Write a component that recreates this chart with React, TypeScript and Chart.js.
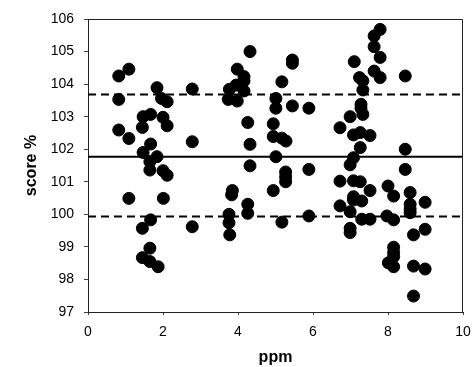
import React, { useEffect, useRef } from "react";
import { Chart, registerables } from "chart.js";

Chart.register(...registerables);

const ppm: number[] = [
  0.82, 1.09, 0.82, 1.84, 1.96, 2.11, 2.78, 1.47, 1.67, 2.0, 1.45, 2.11, 0.82, 1.09, 2.78, 1.67, 1.47, 1.84, 1.65, 1.65, 2.0, 2.11,
  1.09, 2.01, 1.67, 1.45, 2.78, 1.65, 1.45, 1.65, 1.87,
  4.32, 5.45, 5.45, 3.98, 4.16, 4.16, 5.17, 3.95, 3.77, 4.16, 3.74, 3.98, 5.01, 5.01, 5.45, 5.89, 4.26, 4.94, 4.94, 5.17, 5.28, 4.32, 5.01, 4.32, 5.27, 5.27, 5.27, 5.89,
  3.85, 3.83, 4.94, 4.26, 4.26, 3.76, 3.76, 3.78, 5.17, 5.89,
  7.79, 7.63, 7.63, 7.79, 7.1, 7.63, 7.79, 8.46, 7.24, 7.33, 7.33, 7.28, 7.28, 6.99, 7.33, 6.72, 7.08, 7.26, 7.52, 7.26, 8.46, 7.08, 6.99, 8.46,
  6.72, 7.08, 7.26, 7.52, 8.0, 8.15, 8.59, 7.08, 7.08, 7.3, 6.72, 8.59, 8.59, 8.59, 8.99, 6.99, 7.3, 7.52, 7.97, 8.15, 6.99, 6.99, 8.68, 8.99,
  8.15, 8.15, 8.15, 8.01, 8.15, 8.68, 8.99, 8.68,
];

const score: number[] = [
  104.25, 104.46, 103.53, 103.89, 103.56, 103.46, 103.85, 103.0, 103.07, 102.98, 102.67, 102.72, 102.59, 102.33, 102.23, 102.16, 101.9, 101.77, 101.62, 101.36, 101.34, 101.2,
  100.49, 100.49, 99.83, 99.57, 99.62, 98.96, 98.67, 98.55, 98.39,
  105.0, 104.74, 104.64, 104.46, 104.23, 104.1, 104.07, 103.97, 103.84, 103.79, 103.53, 103.48, 103.56, 103.26, 103.33, 103.26, 102.82, 102.78, 102.39, 102.34, 102.25, 102.15, 101.77, 101.49, 101.3, 101.15, 101.0, 101.38,
  100.73, 100.6, 100.73, 100.31, 100.03, 100.0, 99.74, 99.37, 99.76, 99.95,
  105.68, 105.48, 105.15, 104.82, 104.69, 104.4, 104.2, 104.25, 104.2, 104.1, 103.82, 103.38, 103.26, 103.0, 103.07, 102.66, 102.44, 102.51, 102.42, 102.05, 102.0, 101.74, 101.52, 101.38,
  101.02, 101.03, 101.0, 100.73, 100.87, 100.56, 100.67, 100.54, 100.44, 100.41, 100.26, 100.31, 100.16, 100.05, 100.37, 100.08, 99.85, 99.85, 99.95, 99.83, 99.57, 99.44, 99.37, 99.54,
  98.99, 98.83, 98.7, 98.51, 98.39, 98.41, 98.32, 97.49,
];

const MEAN = 101.77;
const UPPER = 103.68;
const LOWER = 99.93;
const X_RANGE = [0, 10];
const Y_RANGE = [97, 106];

const borderPlugin = {
  id: "frameBox",
  afterDatasetsDraw(chart: any) {
    const { ctx, chartArea } = chart;
    ctx.save();
    ctx.strokeStyle = "#222";
    ctx.lineWidth = 1;
    ctx.beginPath();
    ctx.moveTo(chartArea.left, chartArea.top + 0.5);
    ctx.lineTo(chartArea.right - 0.5, chartArea.top + 0.5);
    ctx.lineTo(chartArea.right - 0.5, chartArea.bottom);
    ctx.stroke();
    ctx.restore();
  },
};

export default function App() {
  const ref = useRef<HTMLCanvasElement | null>(null);
  useEffect(() => {
    if (!ref.current) return;
    const font = "'Liberation Sans', Arial, Helvetica, sans-serif";
    const hline = (v: number) => X_RANGE.map((x) => ({ x, y: v }));
    const chart = new Chart(ref.current, {
      type: "scatter",
      data: {
        datasets: [
          {
            type: "line",
            data: hline(MEAN),
            borderColor: "#000",
            borderWidth: 2,
            pointRadius: 0,
            order: 2,
          },
          {
            type: "line",
            data: hline(UPPER),
            borderColor: "#000",
            borderWidth: 2,
            borderDash: [8, 5],
            pointRadius: 0,
            order: 2,
          },
          {
            type: "line",
            data: hline(LOWER),
            borderColor: "#000",
            borderWidth: 2,
            borderDash: [8, 5],
            pointRadius: 0,
            order: 2,
          },
          {
            data: ppm.map((x, i) => ({ x, y: score[i] })),
            backgroundColor: "#000",
            borderColor: "#000",
            pointRadius: 6,
            pointHoverRadius: 6,
            order: 1,
          },
        ],
      } as any,
      options: {
        animation: false,
        responsive: false,
        events: [],
        layout: { padding: { top: 19, right: 9, left: 0, bottom: 0 } },
        plugins: { legend: { display: false }, tooltip: { enabled: false } },
        scales: {
          x: {
            type: "linear",
            min: X_RANGE[0],
            max: X_RANGE[1],
            ticks: { stepSize: 2, color: "#000", font: { family: font, size: 14 }, padding: 9 },
            grid: { display: true, drawOnChartArea: false, tickLength: 3, color: "#444" },
            border: { color: "#222", width: 1 },
            title: {
              display: true,
              text: "ppm",
              color: "#000",
              font: { family: font, size: 16, weight: "bold" },
              padding: { top: 0, bottom: 0 },
            },
            afterFit(scale: any) {
              scale.height = 55;
              scale.paddingLeft = 0;
              scale.paddingRight = 0;
            },
          },
          y: {
            type: "linear",
            min: Y_RANGE[0],
            max: Y_RANGE[1],
            ticks: { stepSize: 1, color: "#000", font: { family: font, size: 14 }, padding: 10 },
            grid: { display: true, drawOnChartArea: false, tickLength: 4, color: "#444" },
            border: { color: "#222", width: 1 },
            title: {
              display: true,
              text: "score %",
              color: "#000",
              font: { family: font, size: 16, weight: "bold" },
              padding: { top: 22, bottom: 0 },
            },
            afterFit(scale: any) {
              scale.width = 88;
              scale.paddingTop = 0;
              scale.paddingBottom = 0;
            },
          },
        },
      } as any,
      plugins: [borderPlugin],
    });
    return () => chart.destroy();
  }, []);
  return (
    <div style={{ position: "absolute", left: 0, top: 0, width: 472, height: 367, background: "#fff" }}>
      <canvas ref={ref} width={472} height={367} style={{ display: "block" }} />
    </div>
  );
}
